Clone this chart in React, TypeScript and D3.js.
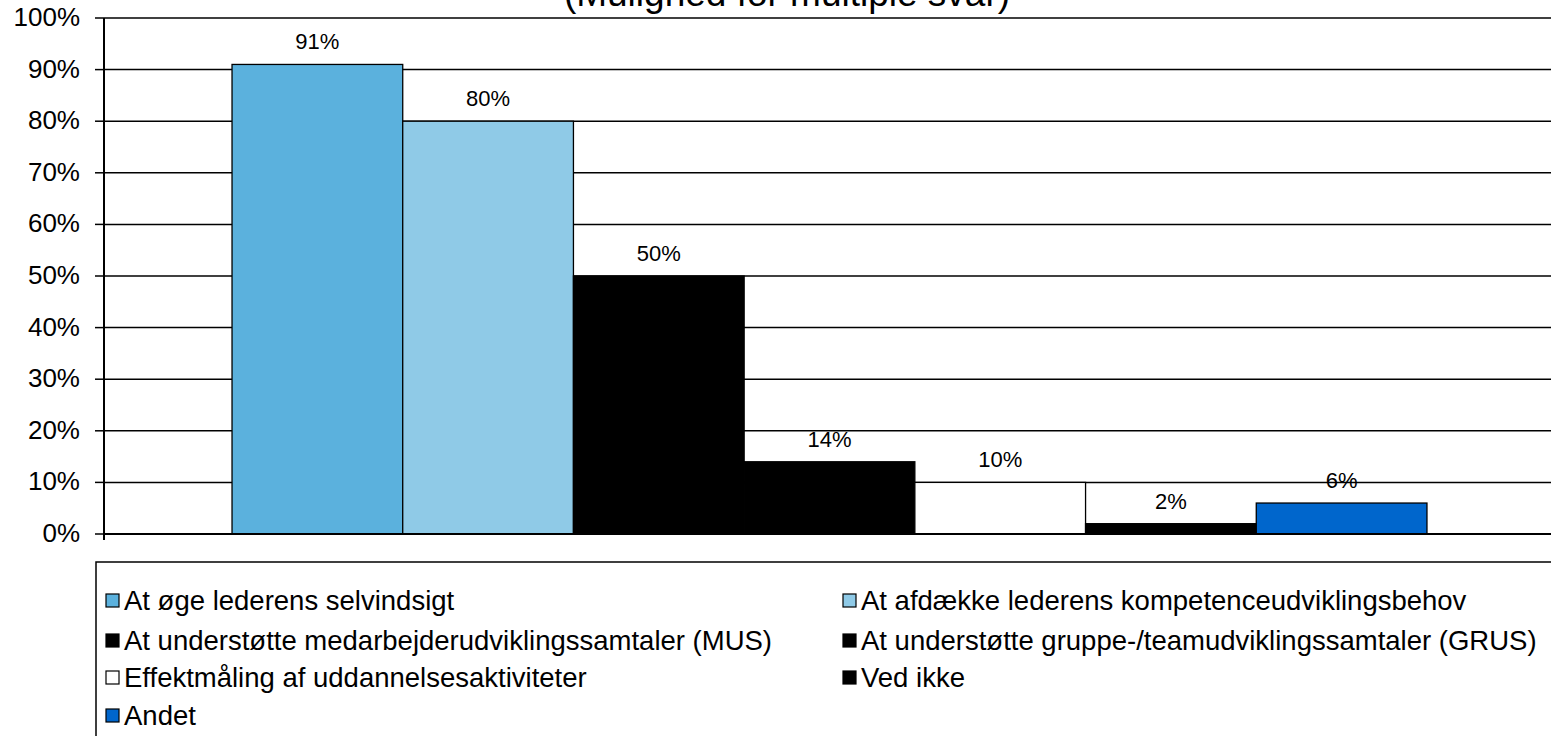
import React from "react";
import * as d3 from "d3";

const categories = [
  "At øge lederens selvindsigt",
  "At afdække lederens kompetenceudviklingsbehov",
  "At understøtte medarbejderudviklingssamtaler (MUS)",
  "At understøtte gruppe-/teamudviklingssamtaler (GRUS)",
  "Effektmåling af uddannelsesaktiviteter",
  "Ved ikke",
  "Andet",
];
const values = [91, 80, 50, 14, 10, 2, 6];
const colors = ["#5BB1DD", "#8FCAE7", "#000000", "#000000", "#FFFFFF", "#000000", "#0066CC"];
const yTicks = [0, 10, 20, 30, 40, 50, 60, 70, 80, 90, 100];
const subtitle = "(Mulighed for multiple svar)";

const W = 1551;
const H = 736;
const font = "Liberation Sans, Arial, sans-serif";

export default function App() {
  const plotLeft = 104;
  const plotRight = 1555;
  const plotTop = 18;
  const plotBottom = 534;
  const y = d3.scaleLinear().domain([0, 100]).range([plotBottom, plotTop]);
  const groupW = ((plotRight - plotLeft) * 7) / 8.5;
  const groupX = plotLeft + ((plotRight - plotLeft) * 0.75) / 8.5;
  const x = d3.scaleBand().domain(categories).range([groupX, groupX + groupW]).padding(0);

  const legendRows = [[0, 1], [2, 3], [4, 5], [6]];
  const legendBaseY = [610, 650, 687, 725];
  const legendColX = [106, 843];

  return (
    <svg width={W} height={H} style={{ position: "absolute", left: 0, top: 0, background: "#fff" }}>
      <text x={787} y={6} textAnchor="middle" fontFamily={font} fontSize={37} fill="#000">
        {subtitle}
      </text>
      {yTicks.map((t) => (
        <line key={"g" + t} x1={plotLeft} x2={W} y1={y(t)} y2={y(t)} stroke="#000" strokeWidth={1.5} />
      ))}
      {categories.map((c, i) => (
        <rect
          key={c}
          x={x(c)!}
          y={y(values[i])}
          width={x.bandwidth()}
          height={plotBottom - y(values[i])}
          fill={colors[i]}
          stroke="#000"
          strokeWidth={1.3}
        />
      ))}
      {categories.map((c, i) => (
        <text
          key={"l" + c}
          x={x(c)! + x.bandwidth() / 2}
          y={y(values[i]) - 15}
          textAnchor="middle"
          fontFamily={font}
          fontSize={22}
          fill="#000"
        >
          {values[i] + "%"}
        </text>
      ))}
      <line x1={plotLeft} x2={plotLeft} y1={plotTop} y2={plotBottom + 6} stroke="#000" strokeWidth={2} />
      <line x1={plotLeft} x2={W} y1={plotBottom} y2={plotBottom} stroke="#000" strokeWidth={2} />
      {yTicks.map((t) => (
        <g key={"t" + t}>
          <line x1={plotLeft - 9} x2={plotLeft} y1={y(t)} y2={y(t)} stroke="#000" strokeWidth={1.5} />
          <text x={80} y={y(t) + 8} textAnchor="end" fontFamily={font} fontSize={26} fill="#000">
            {t + "%"}
          </text>
        </g>
      ))}
      <rect x={96} y={562} width={W} height={300} fill="none" stroke="#000" strokeWidth={1.5} />
      {legendRows.map((row, r) =>
        row.map((idx, col) => (
          <g key={"lg" + idx}>
            <rect
              x={legendColX[col]}
              y={legendBaseY[r] - 16}
              width={13}
              height={13}
              fill={colors[idx]}
              stroke="#000"
              strokeWidth={1.2}
            />
            <text x={legendColX[col] + 18} y={legendBaseY[r]} fontFamily={font} fontSize={27.5} fill="#000">
              {categories[idx]}
            </text>
          </g>
        ))
      )}
    </svg>
  );
}
